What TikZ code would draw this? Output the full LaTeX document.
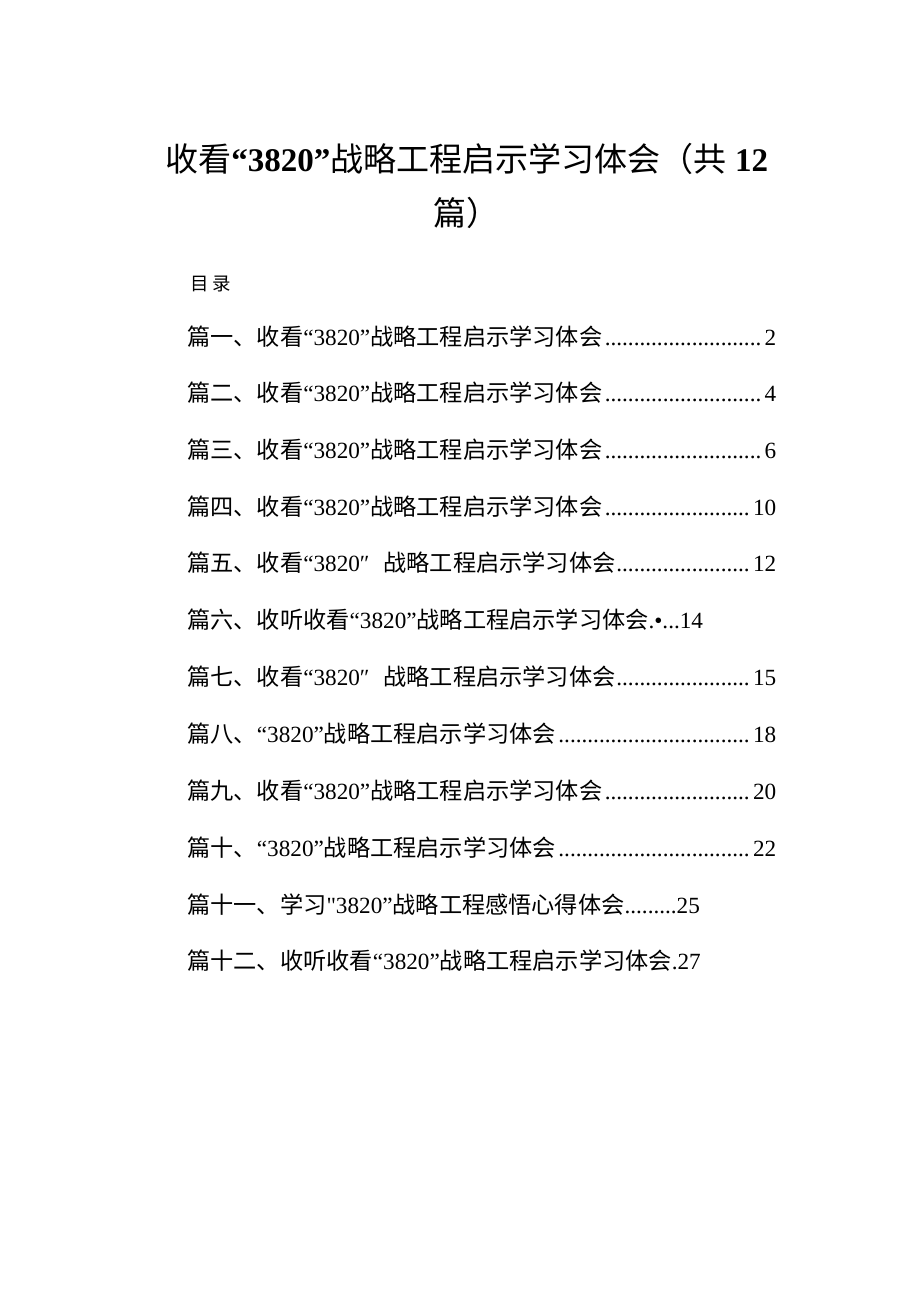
\documentclass[tikz,border=0pt]{standalone}
\usepackage{fontspec}
\setmainfont{Liberation Serif}
\newfontfamily\cjk{Noto Sans CJK SC}
\newfontfamily\rawserif{Liberation Serif}
\usepackage{tikz}

% one line of the contents: text, dotted leader, page number
\newcommand\tocrow[2]{\hbox to 11.78cm{#1\leaders\hbox{.}\hfill #2}}

\begin{document}
\begin{tikzpicture}[x=0.02cm,y=-0.02cm,
  title/.style={inner sep=0, font=\fontsize{18.8pt}{22pt}\selectfont},
  entry/.style={anchor=base west, inner sep=0, font=\fontsize{13.2pt}{16pt}\selectfont}]
\useasboundingbox (0,0) rectangle (920,1301);
\fill[white] (0,0) rectangle (920,1301);

\node at (165,172)[anchor=base west, title] (title1) {{\cjk 收看}\textbf{“3820”}{\cjk 战略工程启示学习体会（共}\hspace{0.25em}\textbf{12}};
\node at (433,225)[anchor=base west, title] (title2) {{\cjk 篇）}};

\node at (190,290)[anchor=base west, inner sep=0, font=\fontsize{10.5pt}{12pt}\selectfont] (contents) {{\cjk 目\hspace{0.2em}录}};

\node at (187,345)[entry] (toc1) {\tocrow{{\cjk 篇一、收看}“3820”{\cjk 战略工程启示学习体会}}{2}};
\node at (187,401)[entry] (toc2) {\tocrow{{\cjk 篇二、收看}“3820”{\cjk 战略工程启示学习体会}}{4}};
\node at (187,458)[entry] (toc3) {\tocrow{{\cjk 篇三、收看}“3820”{\cjk 战略工程启示学习体会}}{6}};
\node at (187,515)[entry] (toc4) {\tocrow{{\cjk 篇四、收看}“3820”{\cjk 战略工程启示学习体会}}{10}};
\node at (187,571)[entry] (toc5) {\tocrow{{\cjk 篇五、收看}“3820″\hspace{0.6em}{\cjk 战略工程启示学习体会}}{12}};
\node at (187,628)[entry] (toc6) {{\cjk 篇六、收听收看}“3820”{\cjk 战略工程启示学习体会}.•...14};
\node at (187,685)[entry] (toc7) {\tocrow{{\cjk 篇七、收看}“3820″\hspace{0.6em}{\cjk 战略工程启示学习体会}}{15}};
\node at (187,742)[entry] (toc8) {\tocrow{{\cjk 篇八、}“3820”{\cjk 战略工程启示学习体会}}{18}};
\node at (187,799)[entry] (toc9) {\tocrow{{\cjk 篇九、收看}“3820”{\cjk 战略工程启示学习体会}}{20}};
\node at (187,856)[entry] (toc10) {\tocrow{{\cjk 篇十、}“3820”{\cjk 战略工程启示学习体会}}{22}};
\node at (187,913)[entry] (toc11) {{\cjk 篇十一、学习}{\rawserif"}3820”{\cjk 战略工程感悟心得体会}.........25};
\node at (187,969)[entry] (toc12) {{\cjk 篇十二、收听收看}“3820”{\cjk 战略工程启示学习体会}.27};
\end{tikzpicture}
\end{document}
